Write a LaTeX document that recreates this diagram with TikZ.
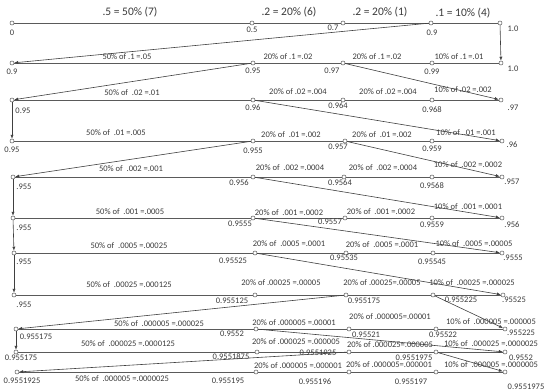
\documentclass[tikz,border=0pt]{standalone}
\usepackage{fontspec}
\setmainfont{Carlito}
\usetikzlibrary{arrows.meta,backgrounds}
\definecolor{WireGray}{HTML}{5A5A5A}
\definecolor{InkText}{HTML}{3A3A3A}
\tikzset{
  vtx/.style={circle, draw=WireGray, line width=0.5pt, fill=white,
              minimum size=4pt, inner sep=0pt},
  rowline/.style={line width=0.7pt, draw=WireGray},
  jump/.style={line width=0.6pt, draw=black!75, -{Latex[length=4pt,width=3.2pt]}},
  vlab/.style={font=\fontsize{8.5}{10}\selectfont, text=InkText, inner sep=0pt},
  flab/.style={font=\fontsize{8.5}{10}\selectfont, text=InkText, inner sep=0pt},
  hlab/.style={font=\fontsize{11.5}{13}\selectfont, text=InkText, inner sep=0pt},
}

\begin{document}
\begin{tikzpicture}[x=1pt, y=-1pt]
\useasboundingbox (0,0) rectangle (550,391);

% points of each row
\foreach \r/\y/\xa/\xb/\xc/\xd/\xe in {
  0/23/12/252/343/431/500, 1/63/12/253/343/432/501, 2/100/12/253/343/432/501,
  3/141/12/253/345/432/502, 4/177/13/253/344/432/502, 5/218/13/253/345/432/502,
  6/253/14/255/346/433/502, 7/295/14/255/346/433/503, 8/329/16/256/349/436/505,
  9/352/16/257/349/436/505, 10/372/17/256/349/436/505}{
  \foreach \x [count=\c from 0] in {\xa,\xb,\xc,\xd,\xe}
    \node[vtx] (p\r-\c) at (\x,\y) {};
}

% headings
\node[hlab] (h1) at (130,12) {.5 = 50\% (7)};
\node[hlab] (h2) at (289,12) {.2 = 20\% (6)};
\node[hlab] (h3) at (380,12) {.2 = 20\% (1)};
\node[hlab] (h4) at (463,13) {.1 = 10\% (4)};

% values
\foreach \n/\x/\y/\t in {
  0-0/12/33/0, 0-1/252/30/0.5, 0-2/333/28/0.7, 0-3/432/33/0.9, 0-4/513/29/1.0,
  1-0/12/72/0.9, 1-1/253/71/0.95, 1-2/332/71/0.97, 1-3/432/72/0.99, 1-4/513/69/1.0,
  2-0/23/111/0.95, 2-1/253/108/0.96, 2-2/338/106/0.964, 2-3/432/110/0.968, 2-4/513/108/.97,
  3-0/12/150/0.95, 3-1/253/151/0.955, 3-2/338/147/0.957, 3-3/432/149/0.959, 3-4/512/145/.96,
  4-0/24/187/.955, 4-1/239/183/0.956, 4-2/340/183/0.9564, 4-3/432/186/0.9568, 4-4/512/182/.957,
  5-0/24/228/.955, 5-1/240/224/0.9555, 5-2/330/222/0.9557, 5-3/432/225/0.9559, 5-4/512/225/.956,
  6-0/24/262/.955, 6-1/233/261/0.95525, 6-2/344/258/0.95535, 6-3/432/262/0.95545, 6-4/513/258/.9555,
  7-0/24/305/.955, 7-1/232/301/0.955125, 7-2/364/301/0.955175, 7-3/461/300/0.955225, 7-4/514/300/.95525,
  8-0/36/337/0.955175, 8-1/232/334/0.9552, 8-2/366/335/0.95521, 8-3/443/335/0.95522, 8-4/521/333/.955225,
  9-0/21/358/0.955175, 9-1/231/357/0.9551875, 9-2/318/353/0.9551925, 9-3/414/358/0.9551975, 9-4/521/358/0.9552,
  10-0/22/381/0.9551925, 10-1/228/381/0.955195, 10-2/315/382/0.955196, 10-3/411/382/0.955197, 10-4/526/387/0.9551975}
  \node[vlab] (v\n) at (\x,\y) {\t};

% shares
\foreach \n/\x/\y/\t in {
  1-0/127/57/50\% of .1 =.05, 1-1/288/57/20\% of .1 =.02, 1-2/377/57/20\% of .1 =.02, 1-3/459/57/10\% of .1 =.01,
  2-0/132/93/50\% of \ .02 =.01, 2-1/298/92/20\% of .02 =.004, 2-2/388/92/20\% of .02 =.004, 2-3/463/90/10\% of .02 =.002,
  3-0/116/133/50\% of \ .01 =.005, 3-1/291/135/20\% of \ .01 =.002, 3-2/382/135/20\% of \ .01 =.002, 3-3/466/133/10\% of \ .01 =.001,
  4-0/131/169/50\% of \ .002 =.001, 4-1/290/168/20\% of \ .002 =.0004, 4-2/383/168/20\% of \ .002 =.0004, 4-3/468/165/10\% of \ .002 =.0002,
  5-0/130/212/50\% of \ .001 =.0005, 5-1/289/213/20\% of \ .001 =.0002, 5-2/381/212/20\% of \ .001 =.0002, 5-3/468/207/10\% of \ .001 =.0001,
  6-0/129/246/50\% of \ .0005 =.00025, 6-1/289/244/20\% of \ .0005 =.0001, 6-2/382/245/20\% of \ .0005 =.0001, 6-3/474/244/10\% of \ .0005 =.00005,
  7-0/129/285/50\% of \ .00025 =.000125, 7-1/281/283/20\% of .00025 =.00005, 7-2/382/283/20\% of .00025=.00005, 7-3/472/283/10\% of \ .00025 =.000025,
  8-0/159/324/50\% of \ .000005 =.000025, 8-1/294/323/20\% of .000005 =.00001, 8-2/390/317/20\% of .000005=.00001, 8-3/491/322/10\% of \ .000005 =.000005,
  9-0/128/344/50\% of \ .000025 =.0000125, 9-1/296/342/20\% of .000025 =.000005, 9-2/390/345/20\% of .000025=.000005, 9-3/491/344/10\% of \ .000025 =.0000025,
  10-0/122/379/50\% of \ .000005 =.0000025, 10-1/298/366/20\% of .000005 =.000001, 10-2/389/365/20\% of .000005=.000001, 10-3/491/365/10\% of \ .000005 =.0000005}
  \node[flab] (f\n) at (\x,\y) {\t};

\begin{scope}[on background layer]
  \foreach \r in {0,...,10}
    \draw[rowline] (p\r-0) -- (p\r-4);
\end{scope}

% carries to the next row
\foreach \a/\b in {p0-3/p1-0, p0-4/p1-4, p1-1/p2-0, p1-2/p2-4, p2-0/p3-0,
  p2-1/p3-4, p3-1/p4-0, p3-2/p4-4, p4-0/p5-0, p4-1/p5-4, p5-0/p6-0, p5-1/p6-4,
  p6-0/p7-0, p6-1/p7-4, p7-2/p8-0, p7-3/p8-4, p8-0/p9-0, p8-1/p9-4,
  p9-2/p10-0, p9-3/p10-4}
  \draw[jump] (\a) -- (\b);
\end{tikzpicture}
\end{document}
